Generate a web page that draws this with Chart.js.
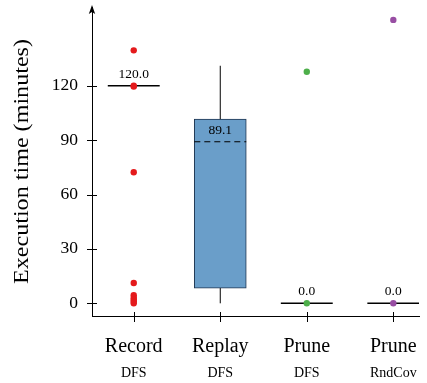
<!DOCTYPE html>
<html><head><meta charset="utf-8">
<script src="https://cdn.jsdelivr.net/npm/chart.js@4.4.1/dist/chart.umd.min.js"></script>
<style>html,body{margin:0;padding:0;background:#fff}</style>
</head><body>
<canvas id="c" width="427" height="383"></canvas>
<script>
// ---- data ----
const categories = ['Record', 'Replay', 'Prune', 'Prune'];
const subLabels = ['DFS', 'DFS', 'DFS', 'RndCov'];
const positions = [1, 2, 3, 4];
const whiskerLow = [120, 0, 0, 0];
const q1 = [120, 8.4, 0, 0];
const median = [120, 89.1, 0, 0];
const q3 = [120, 101.6, 0, 0];
const whiskerHigh = [120, 131, 0, 0];
const pointsRecord = [139.5, 120, 119.5, 72.3, 11.2, 4.5, 3, 2, 1, 0];
const pointsReplay = [];
const pointsPruneDFS = [127.7, 0];
const pointsPruneRndCov = [156.3, 0];
const yTicks = [0, 30, 60, 90, 120];
const yTitle = 'Execution time (minutes)';
const dashedMedian = [false, true, false, false];

// ---- styles ----
const pointColors = ['#e41a1c', '#377eb8', '#4daf4a', '#984ea3'];
const boxFill = '#6a9ec9';
const boxEdge = '#1f3550';
const serif = "'Liberation Serif', 'DejaVu Serif', serif";
const halfW = 0.3;

const allPoints = [pointsRecord, pointsReplay, pointsPruneDFS, pointsPruneRndCov];
const datasets = [];

// boxes
datasets.push({
  type: 'bar',
  data: positions.map((p, i) => ({x: p, y: [q1[i], q3[i]]})).filter((d, i) => q3[i] > q1[i]),
  backgroundColor: boxFill,
  borderColor: boxEdge,
  borderWidth: 1,
  borderSkipped: false,
  barThickness: 52,
  order: 5
});
// whiskers
positions.forEach((p, i) => {
  if (whiskerLow[i] < q1[i]) datasets.push({type: 'line', data: [{x: p, y: whiskerLow[i]}, {x: p, y: q1[i]}], borderColor: '#000', borderWidth: 1, pointRadius: 0, order: 4});
  if (whiskerHigh[i] > q3[i]) datasets.push({type: 'line', data: [{x: p, y: q3[i]}, {x: p, y: whiskerHigh[i]}], borderColor: '#000', borderWidth: 1, pointRadius: 0, order: 4});
});
// medians
positions.forEach((p, i) => {
  datasets.push({type: 'line', data: [{x: p - halfW, y: median[i]}, {x: p + halfW, y: median[i]}], borderColor: '#000', borderWidth: dashedMedian[i] ? 1.2 : 1.6, borderDash: dashedMedian[i] ? [6, 4] : [], pointRadius: 0, order: 3});
});
// points
positions.forEach((p, i) => {
  if (!allPoints[i].length) return;
  datasets.push({type: 'scatter', data: allPoints[i].map(v => ({x: p, y: v})), backgroundColor: pointColors[i], borderColor: pointColors[i], pointRadius: 3.2, pointBorderWidth: 0, order: 1});
});

const decor = {
  id: 'decor',
  afterDraw(chart) {
    const ctx = chart.ctx, xs = chart.scales.x, ys = chart.scales.y, ca = chart.chartArea;
    ctx.save();
    ctx.strokeStyle = '#000'; ctx.fillStyle = '#000'; ctx.lineWidth = 1;
    // y ticks crossing the axis
    yTicks.forEach(v => {
      const y = Math.round(ys.getPixelForValue(v)) + 0.5;
      ctx.beginPath(); ctx.moveTo(ca.left - 5, y); ctx.lineTo(ca.left + 5, y); ctx.stroke();
    });
    // x ticks crossing the axis
    positions.forEach(p => {
      const x = Math.round(xs.getPixelForValue(p)) + 0.5;
      ctx.beginPath(); ctx.moveTo(x, ca.bottom - 4); ctx.lineTo(x, ca.bottom + 6); ctx.stroke();
    });
    // arrow head
    const ax = ca.left;
    ctx.beginPath(); ctx.moveTo(ax, ca.top - 2); ctx.lineTo(ax - 3.2, ca.top + 7); ctx.lineTo(ax, ca.top + 5); ctx.lineTo(ax + 3.2, ca.top + 7); ctx.closePath(); ctx.fill();
    // median labels
    ctx.font = '13.5px ' + serif; ctx.textAlign = 'center'; ctx.textBaseline = 'alphabetic';
    positions.forEach((p, i) => {
      ctx.fillText(median[i].toFixed(1), xs.getPixelForValue(p), ys.getPixelForValue(median[i]) - 8);
    });
    // category labels
    positions.forEach((p, i) => {
      const x = xs.getPixelForValue(p);
      ctx.font = '20px ' + serif; ctx.fillText(categories[i], x, 352);
      ctx.font = '14px ' + serif; ctx.fillText(subLabels[i], x, 377);
    });
    // y axis title (stretched to the reference's wider serif)
    ctx.save();
    ctx.font = '21px ' + serif;
    const w = ctx.measureText(yTitle).width;
    ctx.translate(27.5, (ca.top + ca.bottom) / 2);
    ctx.rotate(-Math.PI / 2);
    ctx.scale(245 / w, 1);
    ctx.fillText(yTitle, 0, 0);
    ctx.restore();
    ctx.restore();
  }
};

new Chart(document.getElementById('c'), {
  type: 'bar',
  data: {datasets},
  options: {
    responsive: false, animation: false, devicePixelRatio: 1,
    layout: {padding: {top: 7, right: 8, left: 0, bottom: 0}},
    plugins: {legend: {display: false}, tooltip: {enabled: false}},
    scales: {
      x: {
        type: 'linear', min: 0.5175, max: 4.297, offset: false,
        grid: {display: false, drawTicks: false}, ticks: {display: false},
        border: {display: true, color: '#000', width: 1},
        afterFit(s) { s.height = 67; s.paddingLeft = 0; s.paddingRight = 0; }
      },
      y: {
        type: 'linear', min: -7.0, max: 163.4, offset: false,
        grid: {display: false, drawTicks: false},
        border: {display: true, color: '#000', width: 1},
        afterBuildTicks(s) { s.ticks = yTicks.map(v => ({value: v})); },
        ticks: {color: '#000', padding: 14, font: {family: serif, size: 17.5}},
        title: {display: false},
        afterFit(s) { s.width = 92; s.paddingTop = 0; s.paddingBottom = 0; }
      }
    }
  },
  plugins: [decor]
});
</script>
</body></html>
